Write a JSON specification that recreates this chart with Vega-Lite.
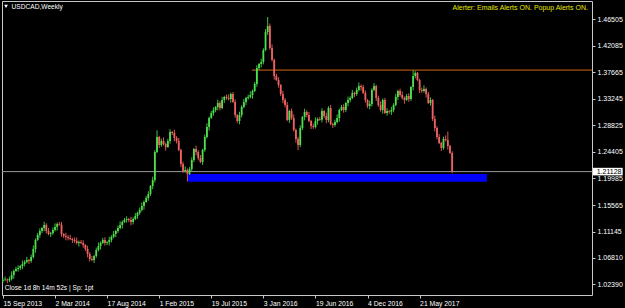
{
"$schema":"https://vega.github.io/schema/vega-lite/v6.json",
"width":590,"height":294,
"autosize":{"type":"none"},
"padding":{"left":2,"top":1,"right":33,"bottom":13},
"background":"#000000",
"config":{"view":{"stroke":"#c8c8c8","strokeWidth":1},"axis":{"domain":false,"grid":false,"tickColor":"#c8c8c8","tickSize":3,"labelColor":"#ffffff","labelFont":"Liberation Sans","labelFontSize":7,"title":null,"labelOverlap":false}},
"datasets":{
"candles":[
{"t":"2013-09-15","o":1.0300,"h":1.0341,"l":1.0260,"c":1.0311},
{"t":"2013-09-22","o":1.0311,"h":1.0368,"l":1.0291,"c":1.0318},
{"t":"2013-09-29","o":1.0318,"h":1.0338,"l":1.0255,"c":1.0305},
{"t":"2013-10-06","o":1.0305,"h":1.0367,"l":1.0275,"c":1.0327},
{"t":"2013-10-13","o":1.0327,"h":1.0454,"l":1.0302,"c":1.0394},
{"t":"2013-10-20","o":1.0394,"h":1.0485,"l":1.0334,"c":1.0460},
{"t":"2013-10-27","o":1.0460,"h":1.0529,"l":1.0445,"c":1.0494},
{"t":"2013-11-03","o":1.0494,"h":1.0555,"l":1.0449,"c":1.0510},
{"t":"2013-11-10","o":1.0510,"h":1.0558,"l":1.0475,"c":1.0543},
{"t":"2013-11-17","o":1.0543,"h":1.0632,"l":1.0488,"c":1.0577},
{"t":"2013-11-24","o":1.0577,"h":1.0640,"l":1.0537,"c":1.0610},
{"t":"2013-12-01","o":1.0610,"h":1.0693,"l":1.0590,"c":1.0643},
{"t":"2013-12-08","o":1.0643,"h":1.0663,"l":1.0577,"c":1.0627},
{"t":"2013-12-15","o":1.0627,"h":1.0733,"l":1.0597,"c":1.0693},
{"t":"2013-12-22","o":1.0693,"h":1.0886,"l":1.0668,"c":1.0826},
{"t":"2013-12-29","o":1.0826,"h":1.1001,"l":1.0766,"c":1.0976},
{"t":"2014-01-05","o":1.0976,"h":1.1094,"l":1.0961,"c":1.1059},
{"t":"2014-01-12","o":1.1059,"h":1.1170,"l":1.1014,"c":1.1125},
{"t":"2014-01-19","o":1.1125,"h":1.1190,"l":1.1090,"c":1.1175},
{"t":"2014-01-26","o":1.1175,"h":1.1280,"l":1.1120,"c":1.1225},
{"t":"2014-02-02","o":1.1225,"h":1.1255,"l":1.1085,"c":1.1125},
{"t":"2014-02-09","o":1.1125,"h":1.1175,"l":1.1055,"c":1.1075},
{"t":"2014-02-16","o":1.1075,"h":1.1110,"l":1.1025,"c":1.1090},
{"t":"2014-02-23","o":1.1090,"h":1.1182,"l":1.1060,"c":1.1142},
{"t":"2014-03-02","o":1.1142,"h":1.1252,"l":1.1117,"c":1.1192},
{"t":"2014-03-09","o":1.1192,"h":1.1267,"l":1.1132,"c":1.1242},
{"t":"2014-03-16","o":1.1242,"h":1.1277,"l":1.1215,"c":1.1230},
{"t":"2014-03-23","o":1.1230,"h":1.1275,"l":1.1030,"c":1.1075},
{"t":"2014-03-30","o":1.1075,"h":1.1090,"l":1.1007,"c":1.1042},
{"t":"2014-04-06","o":1.1042,"h":1.1097,"l":1.0971,"c":1.1026},
{"t":"2014-04-13","o":1.1026,"h":1.1056,"l":1.0969,"c":1.1009},
{"t":"2014-04-20","o":1.1009,"h":1.1059,"l":1.0972,"c":1.0992},
{"t":"2014-04-27","o":1.0992,"h":1.1012,"l":1.0926,"c":1.0976},
{"t":"2014-05-04","o":1.0976,"h":1.1016,"l":1.0929,"c":1.0959},
{"t":"2014-05-11","o":1.0959,"h":1.1019,"l":1.0901,"c":1.0926},
{"t":"2014-05-18","o":1.0926,"h":1.0967,"l":1.0866,"c":1.0942},
{"t":"2014-05-25","o":1.0942,"h":1.0977,"l":1.0911,"c":1.0926},
{"t":"2014-06-01","o":1.0926,"h":1.0971,"l":1.0847,"c":1.0892},
{"t":"2014-06-08","o":1.0892,"h":1.0907,"l":1.0791,"c":1.0826},
{"t":"2014-06-15","o":1.0826,"h":1.0881,"l":1.0688,"c":1.0743},
{"t":"2014-06-22","o":1.0743,"h":1.0773,"l":1.0620,"c":1.0660},
{"t":"2014-06-29","o":1.0660,"h":1.0710,"l":1.0623,"c":1.0643},
{"t":"2014-07-06","o":1.0643,"h":1.0730,"l":1.0593,"c":1.0710},
{"t":"2014-07-13","o":1.0710,"h":1.0849,"l":1.0680,"c":1.0809},
{"t":"2014-07-20","o":1.0809,"h":1.0936,"l":1.0784,"c":1.0876},
{"t":"2014-07-27","o":1.0876,"h":1.0951,"l":1.0816,"c":1.0926},
{"t":"2014-08-03","o":1.0926,"h":1.1011,"l":1.0911,"c":1.0976},
{"t":"2014-08-10","o":1.0976,"h":1.1021,"l":1.0881,"c":1.0926},
{"t":"2014-08-17","o":1.0926,"h":1.0955,"l":1.0891,"c":1.0940},
{"t":"2014-08-24","o":1.0940,"h":1.1031,"l":1.0885,"c":1.0976},
{"t":"2014-08-31","o":1.0976,"h":1.1056,"l":1.0936,"c":1.1026},
{"t":"2014-09-07","o":1.1026,"h":1.1125,"l":1.1006,"c":1.1075},
{"t":"2014-09-14","o":1.1075,"h":1.1145,"l":1.1025,"c":1.1125},
{"t":"2014-09-21","o":1.1125,"h":1.1215,"l":1.1095,"c":1.1175},
{"t":"2014-09-28","o":1.1175,"h":1.1285,"l":1.1150,"c":1.1225},
{"t":"2014-10-05","o":1.1225,"h":1.1300,"l":1.1165,"c":1.1275},
{"t":"2014-10-12","o":1.1275,"h":1.1343,"l":1.1260,"c":1.1308},
{"t":"2014-10-19","o":1.1308,"h":1.1370,"l":1.1263,"c":1.1325},
{"t":"2014-10-26","o":1.1325,"h":1.1340,"l":1.1273,"c":1.1308},
{"t":"2014-11-02","o":1.1308,"h":1.1363,"l":1.1220,"c":1.1275},
{"t":"2014-11-09","o":1.1275,"h":1.1355,"l":1.1235,"c":1.1325},
{"t":"2014-11-16","o":1.1325,"h":1.1425,"l":1.1305,"c":1.1375},
{"t":"2014-11-23","o":1.1375,"h":1.1445,"l":1.1325,"c":1.1425},
{"t":"2014-11-30","o":1.1425,"h":1.1515,"l":1.1395,"c":1.1475},
{"t":"2014-12-07","o":1.1475,"h":1.1601,"l":1.1450,"c":1.1541},
{"t":"2014-12-14","o":1.1541,"h":1.1633,"l":1.1481,"c":1.1608},
{"t":"2014-12-21","o":1.1608,"h":1.1709,"l":1.1593,"c":1.1674},
{"t":"2014-12-28","o":1.1674,"h":1.1786,"l":1.1629,"c":1.1741},
{"t":"2015-01-04","o":1.1741,"h":1.1889,"l":1.1706,"c":1.1874},
{"t":"2015-01-11","o":1.1874,"h":1.2028,"l":1.1819,"c":1.1973},
{"t":"2015-01-18","o":1.1973,"h":1.2469,"l":1.1933,"c":1.2439},
{"t":"2015-01-25","o":1.2439,"h":1.2800,"l":1.2419,"c":1.2688},
{"t":"2015-02-01","o":1.2688,"h":1.2708,"l":1.2505,"c":1.2555},
{"t":"2015-02-08","o":1.2555,"h":1.2662,"l":1.2525,"c":1.2622},
{"t":"2015-02-15","o":1.2622,"h":1.2682,"l":1.2547,"c":1.2572},
{"t":"2015-02-22","o":1.2572,"h":1.2597,"l":1.2462,"c":1.2522},
{"t":"2015-03-01","o":1.2522,"h":1.2657,"l":1.2507,"c":1.2622},
{"t":"2015-03-08","o":1.2622,"h":1.2817,"l":1.2577,"c":1.2772},
{"t":"2015-03-15","o":1.2772,"h":1.2787,"l":1.2720,"c":1.2755},
{"t":"2015-03-22","o":1.2755,"h":1.2810,"l":1.2617,"c":1.2672},
{"t":"2015-03-29","o":1.2672,"h":1.2702,"l":1.2582,"c":1.2622},
{"t":"2015-04-05","o":1.2622,"h":1.2672,"l":1.2452,"c":1.2472},
{"t":"2015-04-12","o":1.2472,"h":1.2492,"l":1.2189,"c":1.2239},
{"t":"2015-04-19","o":1.2239,"h":1.2279,"l":1.2093,"c":1.2123},
{"t":"2015-04-26","o":1.2123,"h":1.2200,"l":1.2098,"c":1.2140},
{"t":"2015-05-03","o":1.2140,"h":1.2165,"l":1.1950,"c":1.2073},
{"t":"2015-05-10","o":1.2073,"h":1.2191,"l":1.2058,"c":1.2156},
{"t":"2015-05-17","o":1.2156,"h":1.2351,"l":1.2111,"c":1.2306},
{"t":"2015-05-24","o":1.2306,"h":1.2504,"l":1.2271,"c":1.2489},
{"t":"2015-05-31","o":1.2489,"h":1.2544,"l":1.2384,"c":1.2439},
{"t":"2015-06-07","o":1.2439,"h":1.2469,"l":1.2299,"c":1.2339},
{"t":"2015-06-14","o":1.2339,"h":1.2389,"l":1.2253,"c":1.2273},
{"t":"2015-06-21","o":1.2273,"h":1.2492,"l":1.2223,"c":1.2472},
{"t":"2015-06-28","o":1.2472,"h":1.2728,"l":1.2442,"c":1.2688},
{"t":"2015-07-05","o":1.2688,"h":1.2915,"l":1.2663,"c":1.2855},
{"t":"2015-07-12","o":1.2855,"h":1.3029,"l":1.2795,"c":1.3004},
{"t":"2015-07-19","o":1.3004,"h":1.3122,"l":1.2989,"c":1.3087},
{"t":"2015-07-26","o":1.3087,"h":1.3182,"l":1.3042,"c":1.3137},
{"t":"2015-08-02","o":1.3137,"h":1.3202,"l":1.3102,"c":1.3187},
{"t":"2015-08-09","o":1.3187,"h":1.3309,"l":1.3132,"c":1.3254},
{"t":"2015-08-16","o":1.3254,"h":1.3284,"l":1.3131,"c":1.3171},
{"t":"2015-08-23","o":1.3171,"h":1.3354,"l":1.3151,"c":1.3304},
{"t":"2015-08-30","o":1.3304,"h":1.3374,"l":1.3254,"c":1.3354},
{"t":"2015-09-06","o":1.3354,"h":1.3394,"l":1.3307,"c":1.3337},
{"t":"2015-09-13","o":1.3337,"h":1.3397,"l":1.3295,"c":1.3320},
{"t":"2015-09-20","o":1.3320,"h":1.3428,"l":1.3260,"c":1.3403},
{"t":"2015-09-27","o":1.3403,"h":1.3438,"l":1.3255,"c":1.3270},
{"t":"2015-10-04","o":1.3270,"h":1.3315,"l":1.3009,"c":1.3054},
{"t":"2015-10-11","o":1.3054,"h":1.3069,"l":1.2919,"c":1.2954},
{"t":"2015-10-18","o":1.2954,"h":1.3109,"l":1.2899,"c":1.3054},
{"t":"2015-10-25","o":1.3054,"h":1.3217,"l":1.3014,"c":1.3187},
{"t":"2015-11-01","o":1.3187,"h":1.3320,"l":1.3167,"c":1.3270},
{"t":"2015-11-08","o":1.3270,"h":1.3357,"l":1.3220,"c":1.3337},
{"t":"2015-11-15","o":1.3337,"h":1.3394,"l":1.3307,"c":1.3354},
{"t":"2015-11-22","o":1.3354,"h":1.3447,"l":1.3329,"c":1.3387},
{"t":"2015-11-29","o":1.3387,"h":1.3478,"l":1.3327,"c":1.3453},
{"t":"2015-12-06","o":1.3453,"h":1.3605,"l":1.3438,"c":1.3570},
{"t":"2015-12-13","o":1.3570,"h":1.3881,"l":1.3525,"c":1.3836},
{"t":"2015-12-20","o":1.3836,"h":1.3917,"l":1.3801,"c":1.3902},
{"t":"2015-12-27","o":1.3902,"h":1.3991,"l":1.3847,"c":1.3936},
{"t":"2016-01-03","o":1.3936,"h":1.4165,"l":1.3896,"c":1.4135},
{"t":"2016-01-10","o":1.4135,"h":1.4484,"l":1.4115,"c":1.4434},
{"t":"2016-01-17","o":1.4434,"h":1.4684,"l":1.4384,"c":1.4534},
{"t":"2016-01-24","o":1.4534,"h":1.4574,"l":1.4138,"c":1.4168},
{"t":"2016-01-31","o":1.4168,"h":1.4228,"l":1.3944,"c":1.3969},
{"t":"2016-02-07","o":1.3969,"h":1.3994,"l":1.3643,"c":1.3703},
{"t":"2016-02-14","o":1.3703,"h":1.3738,"l":1.3621,"c":1.3636},
{"t":"2016-02-21","o":1.3636,"h":1.3681,"l":1.3508,"c":1.3553},
{"t":"2016-02-28","o":1.3553,"h":1.3568,"l":1.3368,"c":1.3403},
{"t":"2016-03-06","o":1.3403,"h":1.3458,"l":1.3249,"c":1.3304},
{"t":"2016-03-13","o":1.3304,"h":1.3334,"l":1.3180,"c":1.3220},
{"t":"2016-03-20","o":1.3220,"h":1.3270,"l":1.2951,"c":1.2971},
{"t":"2016-03-27","o":1.2971,"h":1.3141,"l":1.2921,"c":1.3121},
{"t":"2016-04-03","o":1.3121,"h":1.3161,"l":1.2974,"c":1.3004},
{"t":"2016-04-10","o":1.3004,"h":1.3064,"l":1.2780,"c":1.2805},
{"t":"2016-04-17","o":1.2805,"h":1.2830,"l":1.2595,"c":1.2655},
{"t":"2016-04-24","o":1.2655,"h":1.2690,"l":1.2470,"c":1.2555},
{"t":"2016-05-01","o":1.2555,"h":1.2883,"l":1.2520,"c":1.2838},
{"t":"2016-05-08","o":1.2838,"h":1.3036,"l":1.2803,"c":1.3021},
{"t":"2016-05-15","o":1.3021,"h":1.3159,"l":1.2966,"c":1.3104},
{"t":"2016-05-22","o":1.3104,"h":1.3134,"l":1.3014,"c":1.3054},
{"t":"2016-05-29","o":1.3054,"h":1.3104,"l":1.2934,"c":1.2954},
{"t":"2016-06-05","o":1.2954,"h":1.2974,"l":1.2821,"c":1.2871},
{"t":"2016-06-12","o":1.2871,"h":1.2911,"l":1.2825,"c":1.2855},
{"t":"2016-06-19","o":1.2855,"h":1.3014,"l":1.2830,"c":1.2954},
{"t":"2016-06-26","o":1.2954,"h":1.3013,"l":1.2894,"c":1.2988},
{"t":"2016-07-03","o":1.2988,"h":1.3023,"l":1.2960,"c":1.2975},
{"t":"2016-07-10","o":1.2975,"h":1.3166,"l":1.2930,"c":1.3121},
{"t":"2016-07-17","o":1.3121,"h":1.3136,"l":1.3003,"c":1.3038},
{"t":"2016-07-24","o":1.3038,"h":1.3093,"l":1.2916,"c":1.2971},
{"t":"2016-07-31","o":1.2971,"h":1.3201,"l":1.2931,"c":1.3171},
{"t":"2016-08-07","o":1.3171,"h":1.3221,"l":1.2885,"c":1.2905},
{"t":"2016-08-14","o":1.2905,"h":1.2925,"l":1.2838,"c":1.2888},
{"t":"2016-08-21","o":1.2888,"h":1.2978,"l":1.2858,"c":1.2938},
{"t":"2016-08-28","o":1.2938,"h":1.3064,"l":1.2913,"c":1.3004},
{"t":"2016-09-04","o":1.3004,"h":1.3162,"l":1.2944,"c":1.3137},
{"t":"2016-09-11","o":1.3137,"h":1.3222,"l":1.3122,"c":1.3187},
{"t":"2016-09-18","o":1.3187,"h":1.3232,"l":1.3092,"c":1.3137},
{"t":"2016-09-25","o":1.3137,"h":1.3269,"l":1.3102,"c":1.3254},
{"t":"2016-10-02","o":1.3254,"h":1.3359,"l":1.3199,"c":1.3304},
{"t":"2016-10-09","o":1.3304,"h":1.3367,"l":1.3264,"c":1.3337},
{"t":"2016-10-16","o":1.3337,"h":1.3470,"l":1.3317,"c":1.3420},
{"t":"2016-10-23","o":1.3420,"h":1.3440,"l":1.3353,"c":1.3403},
{"t":"2016-10-30","o":1.3403,"h":1.3510,"l":1.3373,"c":1.3470},
{"t":"2016-11-06","o":1.3470,"h":1.3596,"l":1.3445,"c":1.3536},
{"t":"2016-11-13","o":1.3536,"h":1.3561,"l":1.3460,"c":1.3520},
{"t":"2016-11-20","o":1.3520,"h":1.3555,"l":1.3405,"c":1.3420},
{"t":"2016-11-27","o":1.3420,"h":1.3465,"l":1.3259,"c":1.3304},
{"t":"2016-12-04","o":1.3304,"h":1.3319,"l":1.3169,"c":1.3204},
{"t":"2016-12-11","o":1.3204,"h":1.3292,"l":1.3149,"c":1.3237},
{"t":"2016-12-18","o":1.3237,"h":1.3500,"l":1.3197,"c":1.3470},
{"t":"2016-12-25","o":1.3470,"h":1.3586,"l":1.3450,"c":1.3536},
{"t":"2017-01-01","o":1.3536,"h":1.3556,"l":1.3287,"c":1.3337},
{"t":"2017-01-08","o":1.3337,"h":1.3377,"l":1.3190,"c":1.3220},
{"t":"2017-01-15","o":1.3220,"h":1.3280,"l":1.3112,"c":1.3137},
{"t":"2017-01-22","o":1.3137,"h":1.3329,"l":1.3077,"c":1.3304},
{"t":"2017-01-29","o":1.3304,"h":1.3339,"l":1.3072,"c":1.3087},
{"t":"2017-02-05","o":1.3087,"h":1.3166,"l":1.3042,"c":1.3121},
{"t":"2017-02-12","o":1.3121,"h":1.3136,"l":1.3075,"c":1.3110},
{"t":"2017-02-19","o":1.3110,"h":1.3192,"l":1.3055,"c":1.3137},
{"t":"2017-02-26","o":1.3137,"h":1.3250,"l":1.3097,"c":1.3220},
{"t":"2017-03-05","o":1.3220,"h":1.3404,"l":1.3200,"c":1.3354},
{"t":"2017-03-12","o":1.3354,"h":1.3473,"l":1.3304,"c":1.3453},
{"t":"2017-03-19","o":1.3453,"h":1.3493,"l":1.3357,"c":1.3387},
{"t":"2017-03-26","o":1.3387,"h":1.3447,"l":1.3312,"c":1.3337},
{"t":"2017-04-02","o":1.3337,"h":1.3362,"l":1.3244,"c":1.3304},
{"t":"2017-04-09","o":1.3304,"h":1.3405,"l":1.3289,"c":1.3370},
{"t":"2017-04-16","o":1.3370,"h":1.3415,"l":1.3275,"c":1.3320},
{"t":"2017-04-23","o":1.3320,"h":1.3535,"l":1.3285,"c":1.3520},
{"t":"2017-04-30","o":1.3520,"h":1.3800,"l":1.3465,"c":1.3703},
{"t":"2017-05-07","o":1.3703,"h":1.3783,"l":1.3663,"c":1.3753},
{"t":"2017-05-14","o":1.3753,"h":1.3770,"l":1.3616,"c":1.3636},
{"t":"2017-05-21","o":1.3636,"h":1.3656,"l":1.3420,"c":1.3470},
{"t":"2017-05-28","o":1.3470,"h":1.3510,"l":1.3423,"c":1.3453},
{"t":"2017-06-04","o":1.3453,"h":1.3547,"l":1.3428,"c":1.3487},
{"t":"2017-06-11","o":1.3487,"h":1.3512,"l":1.3343,"c":1.3403},
{"t":"2017-06-18","o":1.3403,"h":1.3438,"l":1.3239,"c":1.3254},
{"t":"2017-06-25","o":1.3254,"h":1.3349,"l":1.3209,"c":1.3304},
{"t":"2017-07-02","o":1.3304,"h":1.3319,"l":1.2953,"c":1.2988},
{"t":"2017-07-09","o":1.2988,"h":1.3043,"l":1.2783,"c":1.2838},
{"t":"2017-07-16","o":1.2838,"h":1.2868,"l":1.2648,"c":1.2688},
{"t":"2017-07-23","o":1.2688,"h":1.2738,"l":1.2569,"c":1.2589},
{"t":"2017-07-30","o":1.2589,"h":1.2609,"l":1.2456,"c":1.2506},
{"t":"2017-08-06","o":1.2506,"h":1.2695,"l":1.2476,"c":1.2655},
{"t":"2017-08-13","o":1.2655,"h":1.2715,"l":1.2614,"c":1.2639},
{"t":"2017-08-20","o":1.2639,"h":1.2780,"l":1.2479,"c":1.2539},
{"t":"2017-08-27","o":1.2539,"h":1.2558,"l":1.2408,"c":1.2423},
{"t":"2017-09-03","o":1.2423,"h":1.2450,"l":1.2085,"c":1.21128}
],
"zone":[{"t0":"2015-05-03","t1":"2017-12-24","p0":1.1945,"p1":1.2073}],
"level":[{"t0":"2015-11-27","t1":"2018-11-28","p":1.3800}],
"one":[{}]
},
"layer":[
{"data":{"name":"zone"},"mark":{"type":"rect","color":"#0000ff"},
 "encoding":{
  "x":{"field":"t0","type":"temporal","scale":{"type":"utc","padding":0,"domain":[{"year":2013,"month":9,"date":12,"utc":true},{"year":2018,"month":11,"date":28,"utc":true}]},
   "axis":{"values":[{"year":2013,"month":9,"date":15,"utc":true},{"year":2014,"month":3,"date":2,"utc":true},{"year":2014,"month":8,"date":17,"utc":true},{"year":2015,"month":2,"date":1,"utc":true},{"year":2015,"month":7,"date":19,"utc":true},{"year":2016,"month":1,"date":3,"utc":true},{"year":2016,"month":6,"date":19,"utc":true},{"year":2016,"month":12,"date":4,"utc":true},{"year":2017,"month":5,"date":21,"utc":true}],
    "tickCount":30,"format":"%-d %b %Y","labelAlign":"left","labelBaseline":"top","labelPadding":2,"labelFlush":false,"labelOverlap":false,"labelBound":false,"labelFontSize":6.8}},
  "x2":{"field":"t1"},
  "y":{"field":"p0","type":"quantitative","scale":{"domain":[1.0061,1.4950],"nice":false,"zero":false,"padding":0},
   "axis":{"orient":"right","values":[1.46505,1.42085,1.37665,1.33245,1.28825,1.24405,1.19985,1.15565,1.11145,1.0681,1.0239],"tickCount":30,"format":".5f","labelAlign":"left","labelBaseline":"middle","labelPadding":2,"labelFlush":false,"labelOverlap":false,"labelBound":false}},
  "y2":{"field":"p1"}}},
{"data":{"name":"one"},"mark":{"type":"rule","color":"#9a9a9a","strokeWidth":1},"encoding":{"y":{"datum":1.21128,"type":"quantitative"}}},
{"data":{"name":"level"},"mark":{"type":"rule","color":"#7a3a0c","strokeWidth":1.6},
 "encoding":{"x":{"field":"t0","type":"temporal"},"x2":{"field":"t1"},"y":{"field":"p","type":"quantitative"}}},
{"data":{"name":"candles"},"mark":{"type":"rule","strokeWidth":1},
 "encoding":{"x":{"field":"t","type":"temporal"},"y":{"field":"l","type":"quantitative"},"y2":{"field":"h"},
  "color":{"condition":{"test":"datum.c >= datum.o","value":"#3fbf3f"},"value":"#d85555"}}},
{"data":{"name":"candles"},"mark":{"type":"bar","size":1.8},
 "encoding":{"x":{"field":"t","type":"temporal"},"y":{"field":"o","type":"quantitative"},"y2":{"field":"c"},
  "color":{"condition":{"test":"datum.c >= datum.o","value":"#4ee04e"},"value":"#f06262"}}},
{"data":{"name":"one"},"mark":{"type":"point","shape":"triangle-down","filled":true,"color":"#ffffff","size":14,"opacity":1},
 "encoding":{"x":{"datum":{"year":2013,"month":9,"date":25,"utc":true},"type":"temporal"},"y":{"datum":1.4860,"type":"quantitative"}}},
{"data":{"name":"one"},"mark":{"type":"text","text":"USDCAD,Weekly","color":"#ffffff","font":"Liberation Sans","fontSize":6.6,"align":"left","baseline":"middle"},
 "encoding":{"x":{"datum":{"year":2013,"month":10,"date":13,"utc":true},"type":"temporal"},"y":{"datum":1.4855,"type":"quantitative"}}},
{"data":{"name":"one"},"mark":{"type":"text","text":"Alerter:  Emails Alerts ON.  Popup Alerts ON.","color":"#e6e600","font":"Liberation Sans","fontSize":7,"align":"right","baseline":"middle"},
 "encoding":{"x":{"datum":{"year":2018,"month":11,"date":15,"utc":true},"type":"temporal"},"y":{"datum":1.4833,"type":"quantitative"}}},
{"data":{"name":"one"},"mark":{"type":"text","text":"Close 1d 8h 14m 52s | Sp: 1pt","color":"#ffffff","font":"Liberation Sans","fontSize":6.6,"align":"left","baseline":"middle"},
 "encoding":{"x":{"datum":{"year":2013,"month":9,"date":21,"utc":true},"type":"temporal"},"y":{"datum":1.0177,"type":"quantitative"}}},
{"data":{"name":"one"},"mark":{"type":"rect","color":"#ffffff","clip":false},
 "encoding":{"x":{"datum":{"year":2018,"month":12,"date":1,"utc":true},"type":"temporal"},"x2":{"datum":{"year":2019,"month":3,"date":7,"utc":true}},"y":{"datum":1.2176,"type":"quantitative"},"y2":{"datum":1.2050}}},
{"data":{"name":"one"},"mark":{"type":"text","text":"1.21128","color":"#000000","font":"Liberation Sans","fontSize":7,"align":"left","baseline":"middle","clip":false},
 "encoding":{"x":{"datum":{"year":2018,"month":12,"date":13,"utc":true},"type":"temporal"},"y":{"datum":1.21128,"type":"quantitative"}}}
]
}
